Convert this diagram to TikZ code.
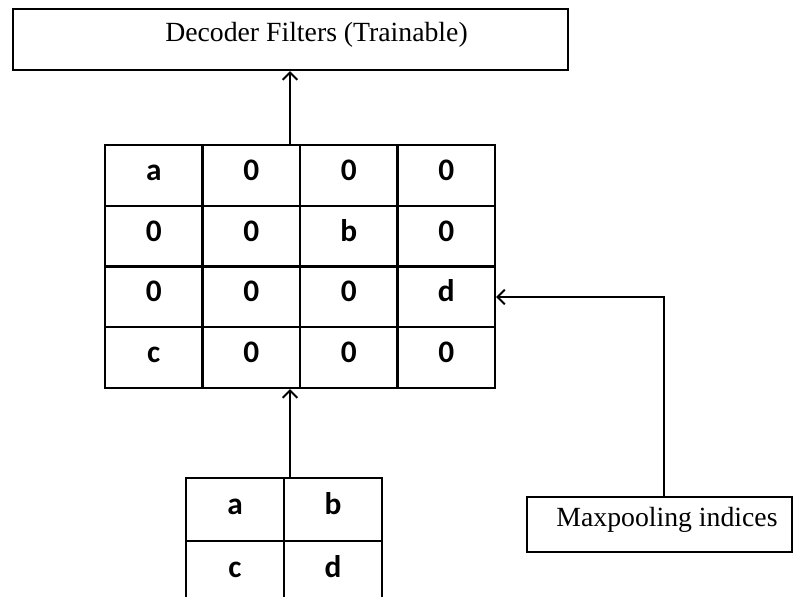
\documentclass[tikz,border=0pt]{standalone}
\usepackage{fontspec}
\setmainfont{Liberation Serif}
\newfontfamily\cellfont{Carlito}
\usetikzlibrary{arrows.meta}
\begin{document}
\begin{tikzpicture}[x=0.75pt,y=-0.75pt,
  lw/.style={line width=1.7pt},
  box/.style={draw,lw,inner sep=0pt,font=\fontsize{20.8}{24}\selectfont,text height=8.2pt,text depth=5.8pt},
  cell/.style={draw,lw,inner sep=0pt,minimum width=73.125pt,minimum height=45.56pt,font=\cellfont\bfseries\fontsize{23.5}{26}\selectfont,text height=7.6pt,text depth=0pt},
  scell/.style={cell,minimum width=73.5pt,minimum height=47.25pt},
  arr/.style={lw,-{Straight Barb[length=5.5pt,width=11pt,line width=1.5pt]}}]
\useasboundingbox (0,0) rectangle (794,597);
\clip (0,0) rectangle (794,597);
\fill[white] (0,0) rectangle (794,597);
% top box
\node[box,minimum width=416.25pt,minimum height=45.75pt] (dec) at (290.5,39.5) {\hspace*{39pt}Decoder Filters (Trainable)};
% 4x4 grid
\node[cell] (c11) at (153.75,175.375) {a};
\node[cell] (c12) at (251.25,175.375) {0};
\node[cell] (c13) at (348.75,175.375) {0};
\node[cell] (c14) at (446.25,175.375) {0};
\node[cell] (c21) at (153.75,236.125) {0};
\node[cell] (c22) at (251.25,236.125) {0};
\node[cell] (c23) at (348.75,236.125) {b};
\node[cell] (c24) at (446.25,236.125) {0};
\node[cell] (c31) at (153.75,296.875) {0};
\node[cell] (c32) at (251.25,296.875) {0};
\node[cell] (c33) at (348.75,296.875) {0};
\node[cell] (c34) at (446.25,296.875) {d};
\node[cell] (c41) at (153.75,357.625) {c};
\node[cell] (c42) at (251.25,357.625) {0};
\node[cell] (c43) at (348.75,357.625) {0};
\node[cell] (c44) at (446.25,357.625) {0};
% 2x2 grid
\node[scell] (s11) at (235,509.5) {a};
\node[scell] (s12) at (333,509.5) {b};
\node[scell] (s21) at (235,572.5) {c};
\node[scell] (s22) at (333,572.5) {d};
% maxpooling box
\node[box,minimum width=198.75pt,minimum height=41.25pt] (mp) at (659.5,524.5) {\hspace*{11.25pt}Maxpooling indices};
% connectors
\coordinate (up1) at (290,145);
\draw[arr] (up1) -- (up1 |- dec.south);
\coordinate (up2) at (290,478);
\draw[arr] (up2) -- (up2 |- c42.south);
\coordinate (bend) at (664,297);
\draw[arr] (bend |- mp.north) -- (bend) -- (bend -| c34.east);
\end{tikzpicture}
\end{document}
